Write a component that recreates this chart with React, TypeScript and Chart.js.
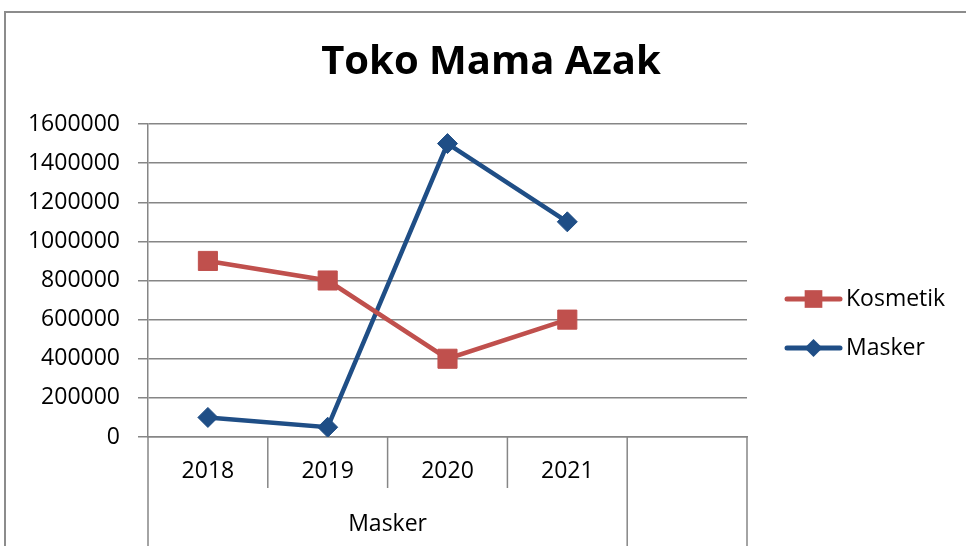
import React, { useEffect, useRef } from 'react';
import { Chart, registerables } from 'chart.js';

Chart.register(...registerables);

const TITLE = 'Toko Mama Azak';
const YEARS = ['2018', '2019', '2020', '2021', ''];
const GROUPS = [
  { label: 'Masker', from: 0, to: 3 },
  { label: '', from: 4, to: 4 },
];
const KOSMETIK = [900000, 800000, 400000, 600000, null];
const MASKER = [100000, 50000, 1500000, 1100000, null];
const Y_MIN = 0;
const Y_MAX = 1600000;
const Y_STEP = 200000;

const FONT = '"Open Sans", "Noto Sans", sans-serif';
const GRID = '#868686';
const RED = '#C0504D';
const BLUE = '#1F4E86';

const framePlugin = {
  id: 'frame',
  beforeDraw(chart: any) {
    const ctx = chart.ctx;
    ctx.save();
    ctx.fillStyle = '#ffffff';
    ctx.fillRect(0, 0, chart.width, chart.height);
    ctx.strokeStyle = '#8c8c8c';
    ctx.lineWidth = 2;
    ctx.strokeRect(5, 12, chart.width + 20, chart.height + 20);
    ctx.restore();
  },
};

const multiLevelPlugin = {
  id: 'multiLevel',
  afterDraw(chart: any) {
    const ctx = chart.ctx;
    const xs = chart.scales.x;
    const area = chart.chartArea;
    const n = YEARS.length;
    const half = (xs.getPixelForValue(1) - xs.getPixelForValue(0)) / 2;
    const top = area.bottom;
    const rowMid = top + 51;
    const bottom = chart.height;
    ctx.save();
    ctx.strokeStyle = GRID;
    ctx.lineWidth = 1.5;
    for (let i = 0; i <= n; i++) {
      const px = i < n ? xs.getPixelForValue(i) - half : xs.getPixelForValue(n - 1) + half;
      const isGroupEdge = i === n || GROUPS.some((g) => g.from === i);
      ctx.beginPath();
      ctx.moveTo(px, top);
      ctx.lineTo(px, isGroupEdge ? bottom : rowMid);
      ctx.stroke();
    }
    ctx.fillStyle = '#000';
    ctx.font = `23px ${FONT}`;
    ctx.textAlign = 'center';
    ctx.textBaseline = 'middle';
    GROUPS.forEach((g) => {
      if (!g.label) return;
      const l = xs.getPixelForValue(g.from) - half;
      const r = xs.getPixelForValue(g.to) + half;
      ctx.fillText(g.label, (l + r) / 2, rowMid + 36);
    });
    ctx.restore();
  },
};

function drawMarker(ctx: CanvasRenderingContext2D, style: string, x: number, y: number, r: number) {
  ctx.beginPath();
  if (style === 'rect') {
    const s = Math.SQRT1_2 * r;
    ctx.rect(x - s, y - s, 2 * s, 2 * s);
  } else {
    ctx.moveTo(x - r, y);
    ctx.lineTo(x, y - r);
    ctx.lineTo(x + r, y);
    ctx.lineTo(x, y + r);
    ctx.closePath();
  }
  ctx.fill();
}

const legendPlugin = {
  id: 'customLegend',
  afterDraw(chart: any) {
    const ctx = chart.ctx;
    const area = chart.chartArea;
    const x0 = area.right + 40;
    const yStart = area.top + 175;
    const gap = 49;
    ctx.save();
    chart.data.datasets.forEach((ds: any, i: number) => {
      const y = yStart + i * gap;
      ctx.strokeStyle = ds.borderColor;
      ctx.fillStyle = ds.borderColor;
      ctx.lineWidth = 5;
      ctx.lineCap = 'round';
      ctx.beginPath();
      ctx.moveTo(x0, y);
      ctx.lineTo(x0 + 53, y);
      ctx.stroke();
      drawMarker(ctx, ds.pointStyle, x0 + 26.5, y, ds.pointStyle === 'rect' ? 12.5 : 9);
      ctx.fillStyle = '#000';
      ctx.font = `23px ${FONT}`;
      ctx.textAlign = 'left';
      ctx.textBaseline = 'middle';
      ctx.fillText(ds.label, x0 + 59, y);
    });
    ctx.restore();
  },
};

export default function App() {
  const ref = useRef<HTMLCanvasElement | null>(null);

  useEffect(() => {
    if (!ref.current) return;
    const chart = new Chart(ref.current, {
      type: 'line',
      data: {
        labels: YEARS,
        datasets: [
          {
            label: 'Kosmetik',
            data: KOSMETIK,
            borderColor: RED,
            backgroundColor: RED,
            borderWidth: 4.5,
            pointStyle: 'rect',
            pointRadius: 13.5,
            pointBorderWidth: 1,
            pointBackgroundColor: RED,
            pointBorderColor: RED,
            tension: 0,
          },
          {
            label: 'Masker',
            data: MASKER,
            borderColor: BLUE,
            backgroundColor: BLUE,
            borderWidth: 4.5,
            pointStyle: 'rectRot',
            pointRadius: 10,
            pointBorderWidth: 1,
            pointBackgroundColor: BLUE,
            pointBorderColor: BLUE,
            tension: 0,
          },
        ],
      },
      options: {
        animation: false,
        responsive: false,
        devicePixelRatio: 1,
        layout: { padding: { left: 16, right: 0, top: 0, bottom: 0 } },
        plugins: {
          legend: { display: false },
          tooltip: { enabled: false },
          title: {
            display: true,
            text: TITLE,
            color: '#000',
            font: { family: FONT, size: 40, weight: 'bold' },
            padding: { top: 39, bottom: 37 },
          },
        },
        scales: {
          x: {
            type: 'category',
            offset: true,
            grid: { display: false, drawTicks: false, offset: true },
            border: { display: true, color: GRID, width: 1.5 },
            ticks: {
              color: '#000',
              font: { family: FONT, size: 23 },
              padding: 21,
              maxRotation: 0,
              autoSkip: false,
            },
            afterFit(scale: any) {
              scale.height = 109;
            },
          },
          y: {
            min: Y_MIN,
            max: Y_MAX,
            grid: { color: GRID, lineWidth: 1.5, tickLength: 10, drawTicks: true },
            border: { display: true, color: GRID, width: 1.5 },
            ticks: {
              stepSize: Y_STEP,
              color: '#000',
              font: { family: FONT, size: 23 },
              padding: 18,
              callback: (v: any) => String(v),
            },
            afterFit(scale: any) {
              scale.width = 132;
            },
          },
          legendSpace: {
            type: 'linear',
            position: 'right',
            display: true,
            grid: { display: false, drawOnChartArea: false },
            border: { display: false },
            ticks: { display: false },
            afterFit(scale: any) {
              scale.width = 219;
            },
          },
        },
      },
      plugins: [framePlugin, multiLevelPlugin, legendPlugin],
    } as any);
    return () => chart.destroy();
  }, []);

  return (
    <div style={{ position: 'absolute', left: 0, top: 0, width: 966, height: 546 }}>
      <canvas ref={ref} width={966} height={546} />
    </div>
  );
}
